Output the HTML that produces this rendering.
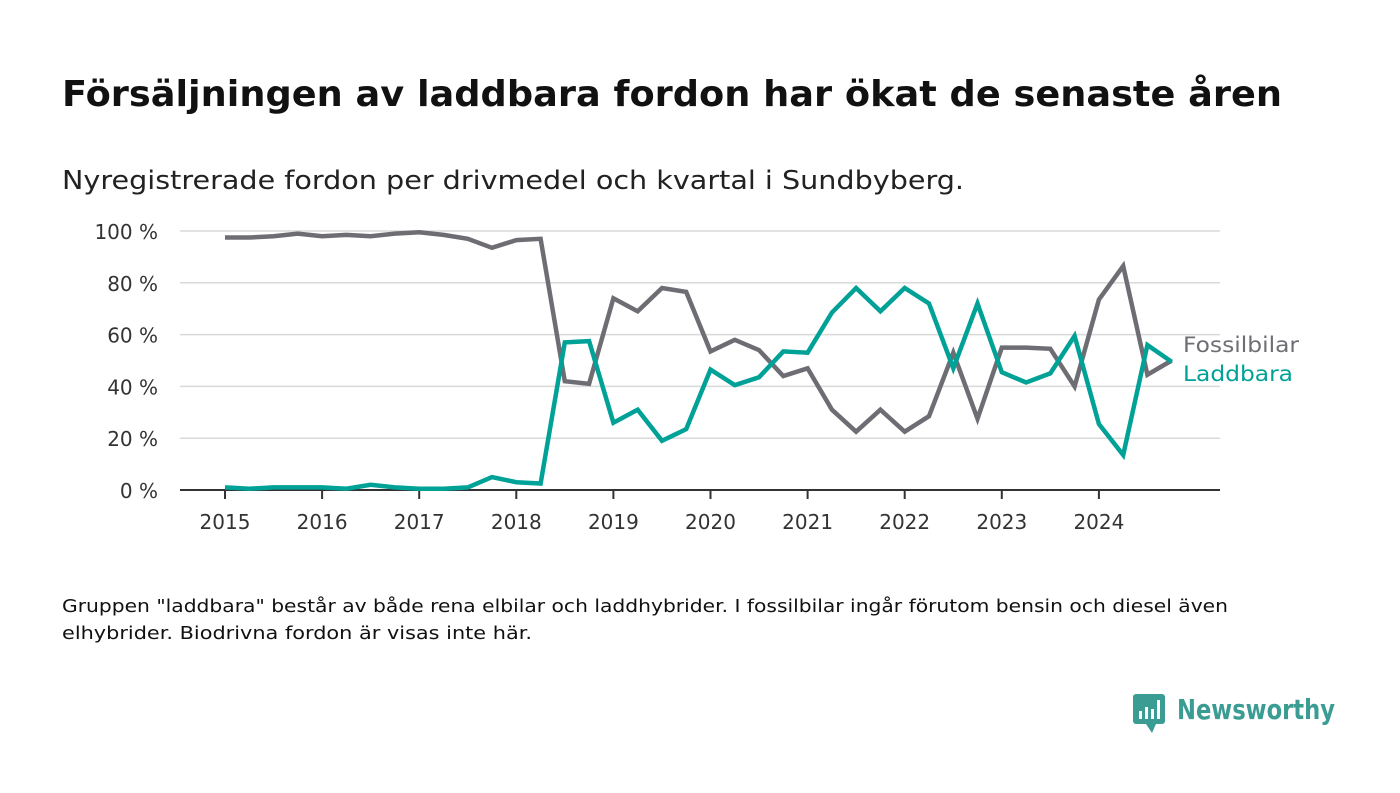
<!DOCTYPE html>
<html><head><meta charset="utf-8"><style>
html,body{margin:0;padding:0;background:#fff;}
svg{display:block;font-family:"DejaVu Sans","Liberation Sans",sans-serif;}
</style></head><body>
<svg id="chart" width="1400" height="793" viewBox="0 0 1400 793">
<text x="62" y="106" font-size="36" font-weight="bold" fill="#111" textLength="1220" lengthAdjust="spacingAndGlyphs">Försäljningen av laddbara fordon har ökat de senaste åren</text>
<text x="62" y="189" font-size="26" fill="#222" textLength="902" lengthAdjust="spacingAndGlyphs">Nyregistrerade fordon per drivmedel och kvartal i Sundbyberg.</text>
<g id="grid"></g><g id="xaxis"></g><g id="series"></g>
<text x="1183" y="352" font-size="21" fill="#6e6d74" textLength="116" lengthAdjust="spacingAndGlyphs">Fossilbilar</text>
<text x="1183" y="381" font-size="21" fill="#00a196" textLength="110" lengthAdjust="spacingAndGlyphs">Laddbara</text>
<text x="62" y="612" font-size="18" fill="#111" textLength="1166" lengthAdjust="spacingAndGlyphs">Gruppen "laddbara" består av både rena elbilar och laddhybrider. I fossilbilar ingår förutom bensin och diesel även</text>
<text x="62" y="639" font-size="18" fill="#111" textLength="470" lengthAdjust="spacingAndGlyphs">elhybrider. Biodrivna fordon är visas inte här.</text>
<g>
<rect x="1133" y="694" width="32" height="30" rx="3" fill="#3a9c92"/>
<path d="M1146 724 L1152 733 L1156 724 Z" fill="#3a9c92"/>
<rect x="1139" y="711" width="3" height="8" fill="#fff"/><rect x="1145" y="707" width="3" height="12" fill="#fff"/><rect x="1151" y="709" width="3" height="10" fill="#fff"/><rect x="1157" y="700" width="3" height="19" fill="#fff"/>
<text x="1177" y="719" font-size="28" font-weight="bold" fill="#3a9c92" textLength="158" lengthAdjust="spacingAndGlyphs">Newsworthy</text>
</g>
</svg>
<script>
const years = [2015,2016,2017,2018,2019,2020,2021,2022,2023,2024];
const yTicks = [0,20,40,60,80,100];
const fossil = [97.5,97.5,98,99,98,98.5,98,99,99.5,98.5,97,93.5,96.5,97,42,41,74,69,78,76.5,53.5,58,54,44,47,31,22.5,31,22.5,28.5,53,27.5,55,55,54.5,40,73.5,86.5,44.5,50];
const laddbara = [1,0.5,1,1,1,0.5,2,1,0.5,0.5,1,5,3,2.5,57,57.5,26,31,19,23.5,46.5,40.5,43.5,53.5,53,68.5,78,69,78,72,47,72,45.5,41.5,45,59.5,25.5,13.5,56,49.5];
const NS='http://www.w3.org/2000/svg';
const x0=180,x1=1220;
const xs = t => 225 + (t-2015)*97.1;
const ys = v => 490 - v*2.59;
function mk(tag,attrs,parent){const e=document.createElementNS(NS,tag);for(const k in attrs)e.setAttribute(k,attrs[k]);parent.appendChild(e);return e;}
const grid=document.getElementById('grid');
yTicks.forEach(v=>{
  if(v>0){const l=mk('line',{x1:x0,x2:x1,y1:ys(v),y2:ys(v),stroke:'#d9d9d9','stroke-width':1.5},grid);
  
  }
  const t=mk('text',{x:158,y:ys(v)+8,'font-size':20,fill:'#333','text-anchor':'end'},grid);
  t.textContent=v+' %';
  
  
});
const xa=document.getElementById('xaxis');
const ax=mk('line',{x1:x0,x2:x1,y1:490,y2:490,stroke:'#333','stroke-width':2},xa);


years.forEach(y=>{
  mk('line',{x1:xs(y),x2:xs(y),y1:490,y2:499,stroke:'#333','stroke-width':2},xa);
  const t=mk('text',{x:xs(y),y:529,'font-size':20,fill:'#333','text-anchor':'middle'},xa);
  t.textContent=y;
  
  
});
const sg=document.getElementById('series');
[[fossil,'#6e6d74','fossilbilar-line'],[laddbara,'#00a196','laddbara-line']].forEach(([d,c,n])=>{
  const pts=d.map((v,i)=>xs(2015+i/4).toFixed(1)+','+ys(v).toFixed(1)).join(' ');
  const p=mk('polyline',{points:pts,fill:'none',stroke:c,'stroke-width':4.5,'stroke-linejoin':'miter'},sg);
  
  
});
</script>
</body></html>
